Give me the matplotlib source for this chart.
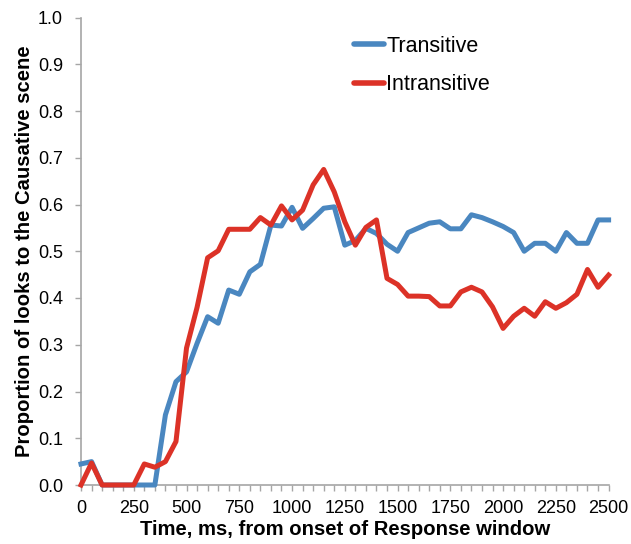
import matplotlib
matplotlib.use("Agg")
import matplotlib.pyplot as plt
import numpy as np

plt.rcParams['font.family'] = ['Liberation Sans', 'DejaVu Sans']

time_ms = list(range(0, 2501, 50))
transitive = [0.045, 0.050, 0.0, 0.0, 0.0, 0.0, 0.0, 0.0, 0.150, 0.221,
              0.242, 0.303, 0.360, 0.346, 0.417, 0.408, 0.456, 0.472, 0.556, 0.554,
              0.594, 0.549, 0.570, 0.592, 0.595, 0.513, 0.523, 0.549, 0.538, 0.515,
              0.500, 0.540, 0.550, 0.560, 0.563, 0.548, 0.548, 0.578, 0.572, 0.563,
              0.553, 0.540, 0.500, 0.517, 0.517, 0.500, 0.540, 0.517, 0.517, 0.567,
              0.567]
intransitive = [0.0, 0.047, 0.0, 0.0, 0.0, 0.0, 0.045, 0.038, 0.050, 0.093,
                0.293, 0.380, 0.486, 0.501, 0.547, 0.547, 0.547, 0.572, 0.556, 0.597,
                0.567, 0.588, 0.642, 0.675, 0.627, 0.563, 0.513, 0.551, 0.567, 0.442,
                0.429, 0.404, 0.404, 0.403, 0.383, 0.383, 0.413, 0.423, 0.413, 0.381,
                0.335, 0.361, 0.378, 0.361, 0.392, 0.378, 0.390, 0.408, 0.461, 0.423,
                0.449]
series_labels = ["Transitive", "Intransitive"]
x_ticks = list(range(0, 2501, 250))
y_ticks = [round(0.1 * i, 1) for i in range(11)]

blue = '#4A87C0'
red = '#DC3227'
gray = '#A6A6A6'

fig = plt.figure(figsize=(6.31, 5.44), dpi=100)
ax = fig.add_axes([81/631, 1-485/544, (608.6-81)/631, (485-17.5)/544])

ax.plot(time_ms, transitive, color=blue, lw=3.6, solid_joinstyle='round', label=series_labels[0], clip_on=False, zorder=3)
ax.plot(time_ms, intransitive, color=red, lw=3.6, solid_joinstyle='round', label=series_labels[1], clip_on=False, zorder=4)

ax.set_xlim(0, 2500)
ax.set_ylim(0, 1.0)
ax.set_xticks(x_ticks)
ax.set_xticks(time_ms, minor=True)
ax.set_yticks(y_ticks)
ax.set_yticklabels([f"{v:.1f}" for v in y_ticks])

for s in ['top', 'right']:
    ax.spines[s].set_visible(False)
for s in ['left', 'bottom']:
    ax.spines[s].set_color(gray)
    ax.spines[s].set_linewidth(1.2)

ax.tick_params(axis='both', which='both', color=gray, width=1, length=4, direction='out', labelsize=13)
ax.tick_params(axis='y', pad=9)
ax.tick_params(axis='x', pad=7)

ax.set_xlabel("Time, ms, from onset of Response window", fontsize=14.6, fontweight='bold', labelpad=2)
ax.set_ylabel("Proportion of looks to the Causative scene", fontsize=14.6, fontweight='bold', labelpad=3)

leg = ax.legend(loc='upper left', bbox_to_anchor=((354-81)/527.6, (485-36)/467.5), frameon=False,
                fontsize=15.5, handlelength=1.4, handletextpad=0.1, labelspacing=0.8,
                borderaxespad=0, borderpad=0)
for line in leg.get_lines():
    line.set_linewidth(4)
    line.set_solid_capstyle('round')

fig.savefig("out.png", dpi=100)
